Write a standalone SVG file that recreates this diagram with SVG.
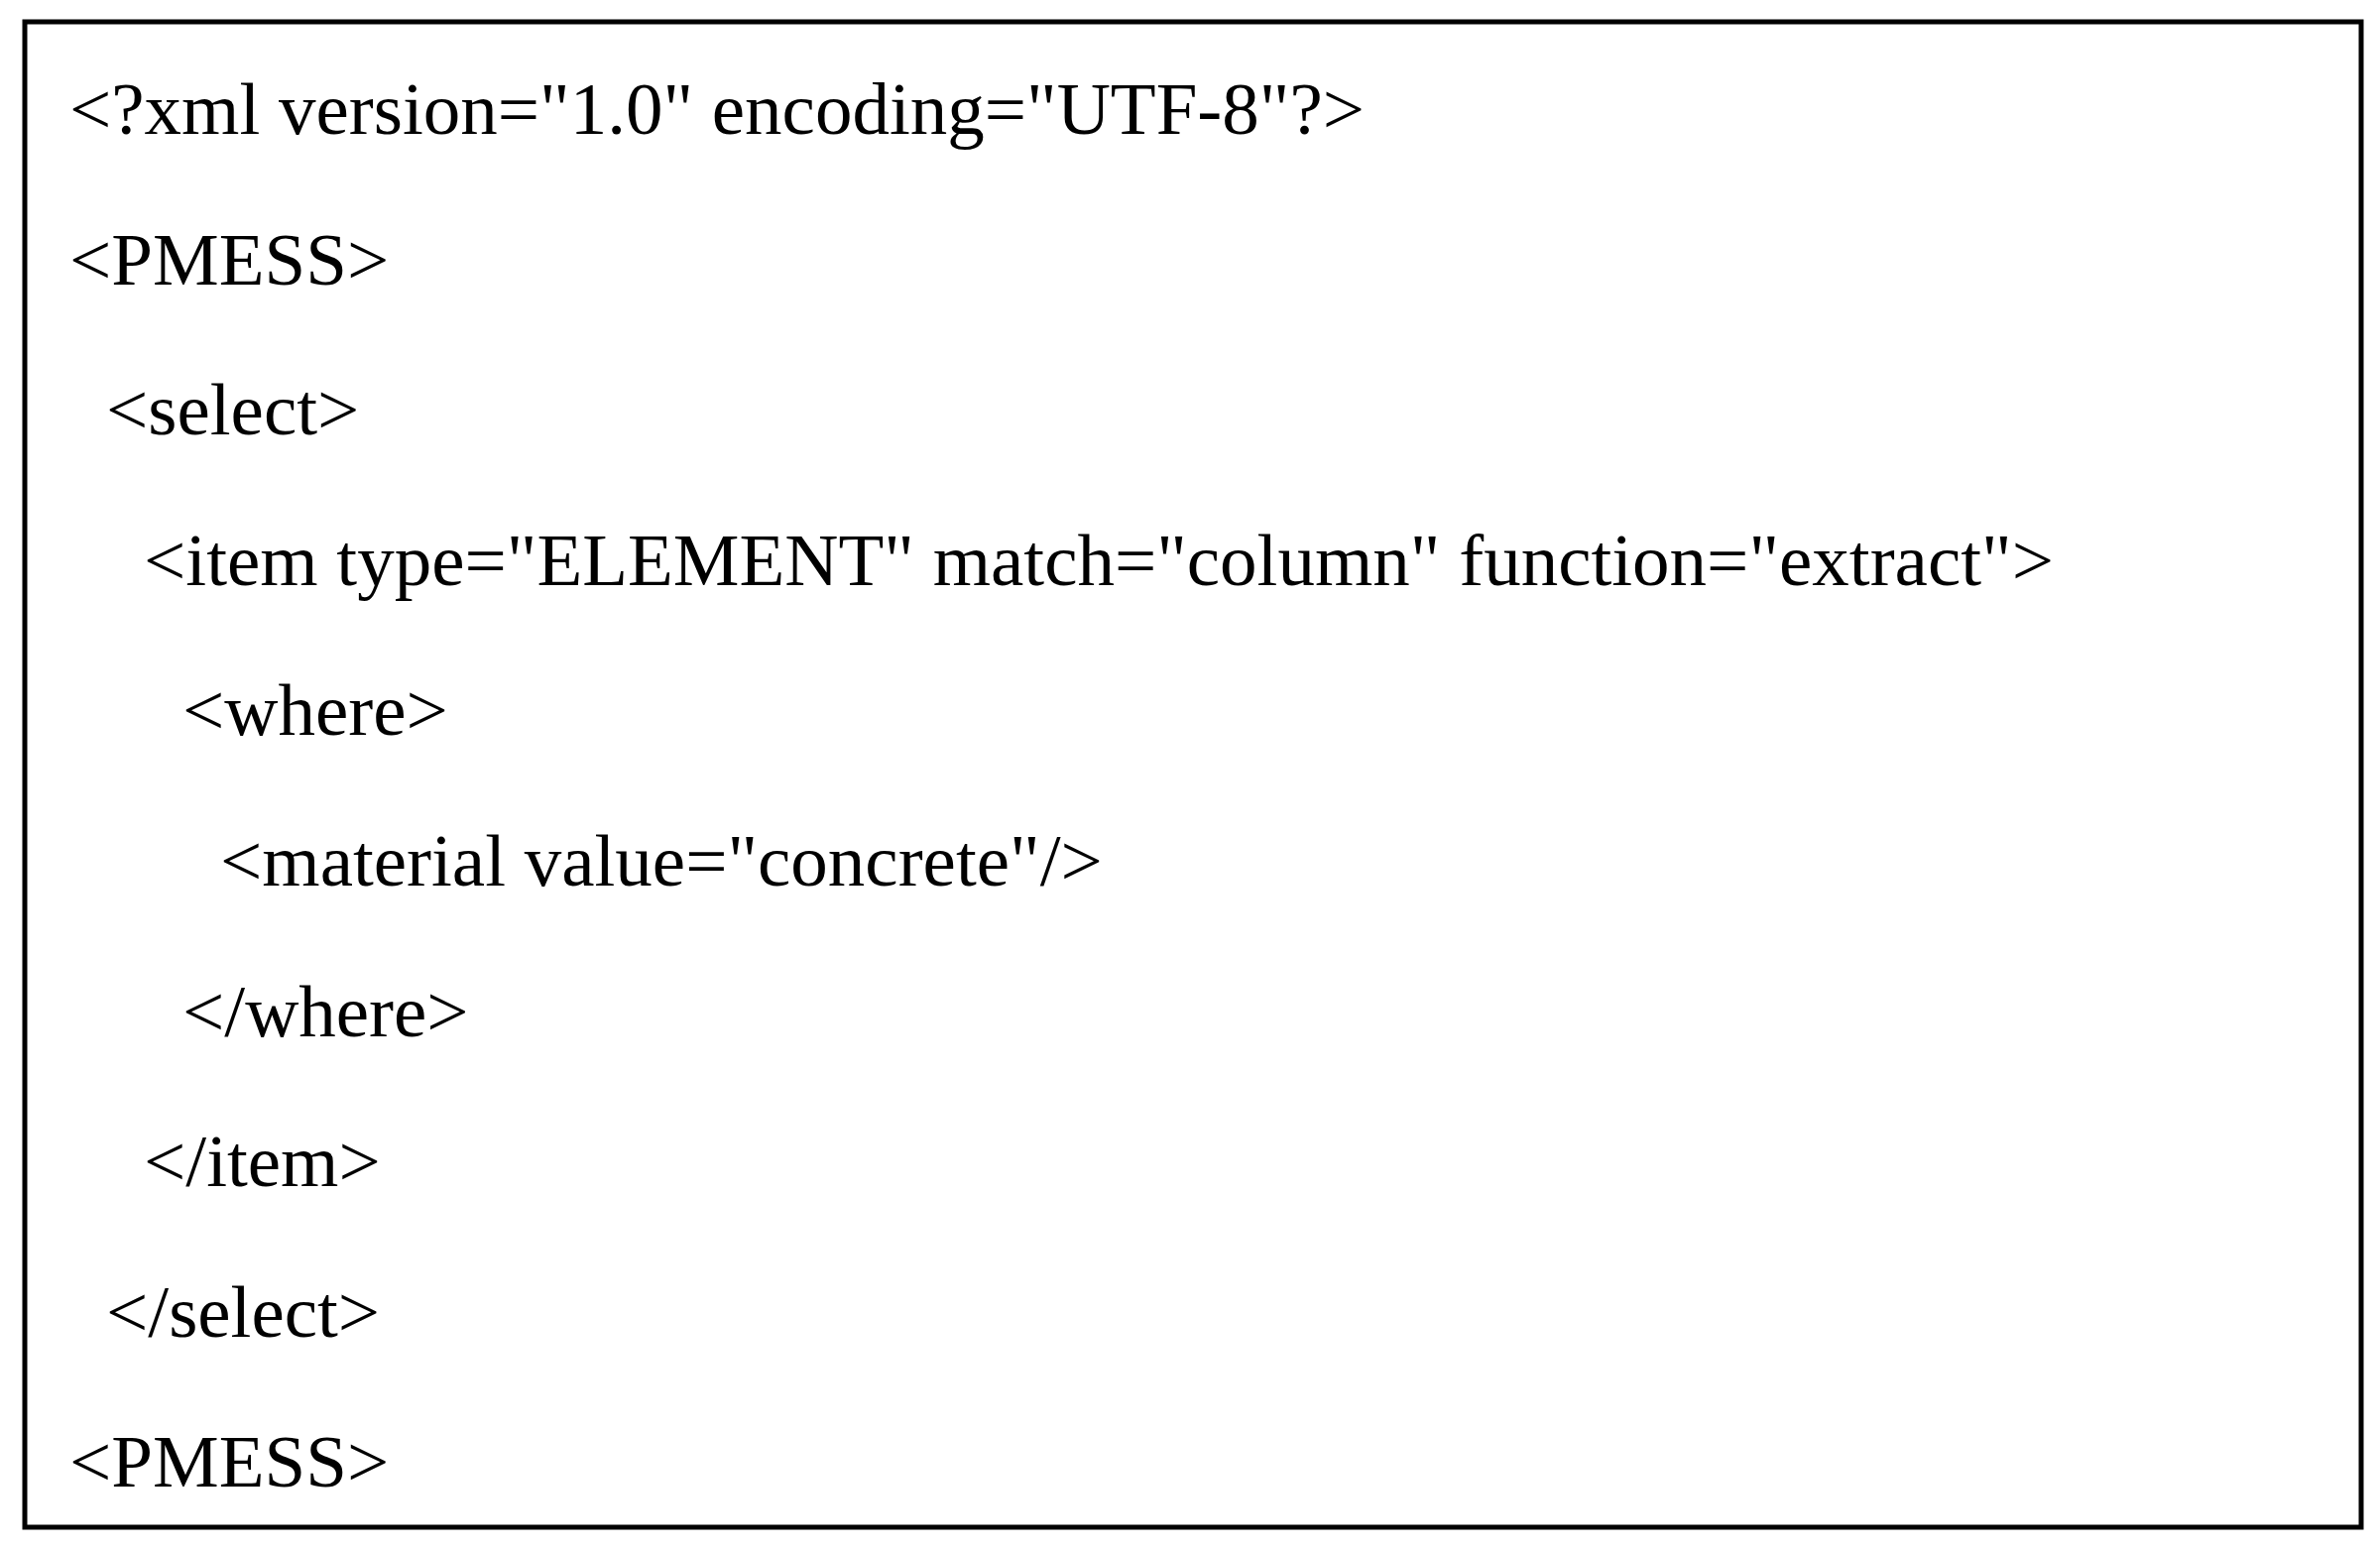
<svg xmlns="http://www.w3.org/2000/svg" width="2400" height="1565" viewBox="0 0 2400 1565">
<style>text{font-family:"Liberation Serif","Times New Roman",serif;font-size:75px;fill:#000}</style>
<rect width="2400" height="1565" fill="#fff"/>
<g id="box"><rect x="25" y="22" width="2356" height="1518" fill="none" stroke="#000" stroke-width="5"/></g>
<g id="code">
<text x="70" y="135">&lt;?xml version="1.0" encoding="UTF-8"?&gt;</text>
<text x="70" y="287">&lt;PMESS&gt;</text>
<text x="107" y="438">&lt;select&gt;</text>
<text x="145" y="590">&lt;item type="ELEMENT" match="column" function="extract"&gt;</text>
<text x="184" y="741">&lt;where&gt;</text>
<text x="222" y="893">&lt;material value="concrete"/&gt;</text>
<text x="184" y="1045">&lt;/where&gt;</text>
<text x="145" y="1196">&lt;/item&gt;</text>
<text x="107" y="1348">&lt;/select&gt;</text>
<text x="70" y="1499">&lt;PMESS&gt;</text>
</g>
</svg>
